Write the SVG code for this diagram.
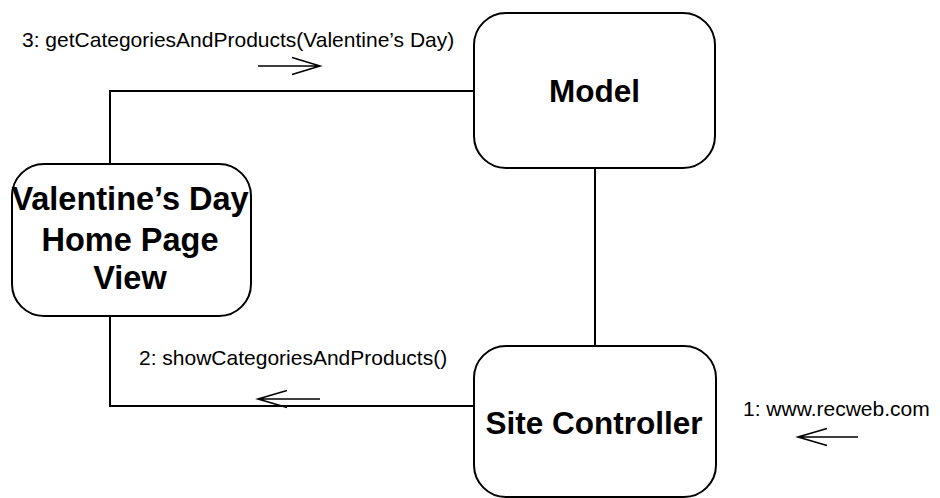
<svg xmlns="http://www.w3.org/2000/svg" width="940" height="498" viewBox="0 0 940 498">
<style>
.box{fill:#fff;stroke:#000;stroke-width:2}
.conn{fill:none;stroke:#000;stroke-width:2}
.arr{fill:none;stroke:#000;stroke-width:1.6}
.title{font-family:"Liberation Sans",Arial,sans-serif;font-weight:bold;font-size:31.5px;text-anchor:middle;fill:#000}
.big{font-size:32.5px}
.lbl{font-family:"Liberation Sans",Arial,sans-serif;font-size:21px;fill:#000}
</style>
<rect width="940" height="498" fill="#fff"/>
<g id="connectors">
<polyline class="conn" points="110,164 110,91 474,91"/>
<polyline class="conn" points="110,316 110,406 474,406"/>
<line class="conn" x1="595" y1="168" x2="595" y2="346"/>
</g>
<g id="model">
<rect class="box" x="474" y="13" width="241" height="155" rx="32" ry="32"/>
<text class="title" x="594.5" y="102">Model</text>
</g>
<g id="valentine-view">
<rect class="box" x="12" y="164" width="239" height="152" rx="32" ry="32"/>
<text class="title big" x="130" y="210">Valentine’s Day</text>
<text class="title big" x="130" y="251">Home Page</text>
<text class="title big" x="130" y="289">View</text>
</g>
<g id="site-controller">
<rect class="box" x="474" y="346" width="242" height="151" rx="32" ry="32"/>
<text class="title" x="594" y="434">Site Controller</text>
</g>
<g id="messages">
<text class="lbl" x="22" y="47">3: getCategoriesAndProducts(Valentine’s Day)</text>
<path class="arr" d="M258,66 H320 M292,57.5 L320,66 L292,74.5"/>
<text class="lbl" x="139" y="365">2: showCategoriesAndProducts()</text>
<path class="arr" d="M320,399 H258 M287,390.5 L258,399 L287,407.5"/>
<text class="lbl" x="743" y="416">1: www.recweb.com</text>
<path class="arr" d="M858,437 H798 M827,428.5 L798,437 L827,445.5"/>
</g>
</svg>
